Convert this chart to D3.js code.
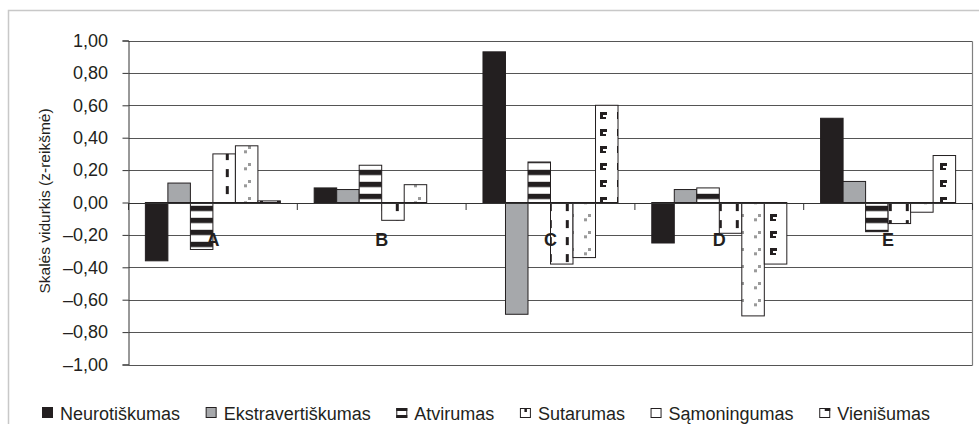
<!DOCTYPE html>
<html>
<head>
<meta charset="utf-8">
<script src="https://cdn.jsdelivr.net/npm/d3@7"></script>
<style>
  html, body { margin: 0; padding: 0; background: #fff; }
  svg { display: block; font-family: "Liberation Sans", Arial, sans-serif; }
</style>
</head>
<body>
<svg id="chart" width="979" height="424"></svg>
<script>
// ---- data ----
const categories = ["A", "B", "C", "D", "E"];
const seriesNames = ["Neurotiškumas", "Ekstravertiškumas", "Atvirumas", "Sutarumas", "Sąmoningumas", "Vienišumas"];
const neurotiskumas     = [-0.36, 0.09, 0.93, -0.25, 0.52];
const ekstravertiskumas = [0.12, 0.08, -0.69, 0.08, 0.13];
const atvirumas         = [-0.29, 0.23, 0.25, 0.09, -0.18];
const sutarumas         = [0.30, -0.11, -0.38, -0.19, -0.13];
const samoningumas      = [0.35, 0.11, -0.34, -0.70, -0.06];
const vienisumas        = [0.01, 0.00, 0.60, -0.38, 0.29];
const yTicks = [1.0, 0.8, 0.6, 0.4, 0.2, 0.0, -0.2, -0.4, -0.6, -0.8, -1.0];
const yTitle = "Skalės vidurkis (z-reikšmė)";

const seriesValues = [neurotiskumas, ekstravertiskumas, atvirumas, sutarumas, samoningumas, vienisumas];

// ---- layout ----
const svg = d3.select("#chart");
const pLeft = 128.5, pRight = 972.5, pTop = 40.5, pBottom = 364.5;
const dark = "#231f20";

const y = d3.scaleLinear().domain([-1, 1]).range([pBottom, pTop]);
const x0 = d3.scaleBand().domain(categories).range([pLeft, pRight]).paddingInner(0.2).paddingOuter(0.1);
const x1 = d3.scaleBand().domain(seriesNames).range([0, x0.bandwidth()]).padding(0);
const y0 = y(0);

// outer frame
svg.append("rect").attr("x", 8.5).attr("y", 10.5).attr("width", 1000).attr("height", 1000)
  .attr("fill", "#fff").attr("stroke", "#c8c8c8").attr("stroke-width", 1.5);

// ---- patterns ----
const defs = svg.append("defs");
const pA = defs.append("pattern").attr("id", "pAtv").attr("patternUnits", "userSpaceOnUse")
  .attr("x", 0).attr("y", y0 + 3.3).attr("width", 10).attr("height", 12);
pA.append("rect").attr("width", 10).attr("height", 12).attr("fill", "#fff");
pA.append("rect").attr("width", 10).attr("height", 5.3).attr("fill", dark);
const pS = defs.append("pattern").attr("id", "pSut").attr("patternUnits", "userSpaceOnUse")
  .attr("x", 4.8).attr("y", y0 + 0.6).attr("width", 17).attr("height", 17);
pS.append("rect").attr("width", 17).attr("height", 17).attr("fill", "#fff");
pS.append("rect").attr("width", 3).attr("height", 8).attr("fill", dark);
const pM = defs.append("pattern").attr("id", "pSam").attr("patternUnits", "userSpaceOnUse")
  .attr("x", 6).attr("y", 146).attr("width", 17).attr("height", 17);
pM.append("rect").attr("width", 17).attr("height", 17).attr("fill", "#fff");
pM.append("rect").attr("x", 0).attr("y", 4.3).attr("width", 3).attr("height", 3).attr("fill", "#9a9a9a");
pM.append("rect").attr("x", 4).attr("y", 0).attr("width", 3).attr("height", 3).attr("fill", "#9a9a9a");
const pV = defs.append("pattern").attr("id", "pVie").attr("patternUnits", "userSpaceOnUse")
  .attr("x", 5).attr("y", 112).attr("width", 17).attr("height", 17);
pV.append("rect").attr("width", 17).attr("height", 17).attr("fill", "#fff");
pV.append("rect").attr("x", 0).attr("y", 0).attr("width", 7).attr("height", 3).attr("fill", dark);
pV.append("rect").attr("x", 0).attr("y", 0).attr("width", 3).attr("height", 7).attr("fill", dark);
pV.append("rect").attr("x", 0).attr("y", 5).attr("width", 6).attr("height", 2).attr("fill", dark);

const fills = [dark, "#a6a8ab", "url(#pAtv)", "url(#pSut)", "url(#pSam)", "url(#pVie)"];

// ---- gridlines ----
svg.append("g").selectAll("line").data(yTicks).join("line")
  .attr("x1", pLeft).attr("x2", pRight)
  .attr("y1", d => Math.round(y(d)) + 0.5).attr("y2", d => Math.round(y(d)) + 0.5)
  .attr("stroke", "#555").attr("stroke-width", 1);
svg.append("line").attr("x1", pRight).attr("x2", pRight).attr("y1", Math.round(pTop) + 0.5).attr("y2", Math.round(pBottom) + 0.5)
  .attr("stroke", "#808080").attr("stroke-width", 1.2);

// ---- bars ----
const barData = [];
categories.forEach((c, ci) => seriesNames.forEach((s, si) => barData.push({ c, s, si, v: seriesValues[si][ci] })));
svg.append("g").selectAll("rect").data(barData).join("rect")
  .attr("x", d => x0(d.c) + x1(d.s))
  .attr("y", d => Math.min(y(d.v), y0))
  .attr("width", x1.bandwidth())
  .attr("height", d => Math.abs(y(d.v) - y0))
  .attr("fill", d => fills[d.si])
  .attr("stroke", d => d.v === 0 ? "none" : dark)
  .attr("stroke-width", 1);

// ---- x axis (zero line + ticks at group boundaries) ----
svg.append("line").attr("x1", pLeft).attr("x2", pRight)
  .attr("y1", Math.round(y0) + 0.5).attr("y2", Math.round(y0) + 0.5)
  .attr("stroke", "#333").attr("stroke-width", 1);
const bounds = categories.map(c => x0(c) - x0.step() * 0.1).concat([pRight]);
svg.append("g").selectAll("line").data(bounds).join("line")
  .attr("x1", d => d).attr("x2", d => d)
  .attr("y1", Math.round(y0) + 0.5).attr("y2", Math.round(y0) + 7)
  .attr("stroke", "#333").attr("stroke-width", 1);

// category labels
svg.append("g").selectAll("text").data(categories).join("text")
  .attr("x", c => x0(c) + x0.bandwidth() / 2)
  .attr("y", y(-0.2) + 11)
  .attr("text-anchor", "middle")
  .attr("font-size", 18).attr("font-weight", "bold").attr("fill", dark)
  .text(c => c);

// ---- y axis ----
const fmt = v => d3.format(".2f")(v).replace(".", ",").replace("−", "–").replace("-", "–");
const yAxis = d3.axisLeft(y).tickValues(yTicks).tickSize(6).tickPadding(8).tickFormat(fmt);
const ga = svg.append("g").attr("transform", `translate(${pLeft},0)`).call(yAxis);
ga.select(".domain").attr("stroke", "#333");
ga.selectAll(".tick line").attr("stroke", "#333");
ga.selectAll(".tick text").attr("font-size", 18).attr("fill", dark)
  .attr("font-family", '"Liberation Sans", Arial, sans-serif').attr("x", -20.5);

svg.append("text")
  .attr("transform", `translate(50,201) rotate(-90)`)
  .attr("text-anchor", "middle").attr("font-size", 15.5).attr("fill", dark)
  .text(yTitle);

// ---- legend ----
const leg = svg.append("g");
let lx = 42;
const ly = 407;
const ms = 11;
seriesNames.forEach((name, i) => {
  const g = leg.append("g").attr("transform", `translate(${lx},${ly})`);
  if (i === 0) {
    g.append("rect").attr("width", ms).attr("height", ms).attr("fill", dark);
  } else if (i === 1) {
    g.append("rect").attr("x", 0.5).attr("y", 0.5).attr("width", ms - 1).attr("height", ms - 1).attr("fill", "#a6a8ab").attr("stroke", dark);
  } else {
    g.append("rect").attr("x", 0.5).attr("y", 1.5).attr("width", ms - 1).attr("height", ms - 2).attr("fill", "#fff").attr("stroke", dark);
    if (i === 2) {
      g.append("rect").attr("x", 0).attr("y", 1).attr("width", ms).attr("height", 3).attr("fill", dark);
      g.append("rect").attr("x", 0).attr("y", ms - 3).attr("width", ms).attr("height", 3).attr("fill", dark);
    } else if (i === 3) {
      g.append("rect").attr("x", ms / 2 - 1).attr("y", 1).attr("width", 2.5).attr("height", 4).attr("fill", dark);
    } else if (i === 5) {
      g.append("rect").attr("x", ms / 2).attr("y", 1).attr("width", ms / 2).attr("height", 3).attr("fill", dark);
    }
  }
  const t = g.append("text").attr("x", 18).attr("y", 12.5).attr("font-size", 18).attr("fill", dark).text(name);
  lx += 18 + t.node().getComputedTextLength() + 25.6;
});
</script>
</body>
</html>
